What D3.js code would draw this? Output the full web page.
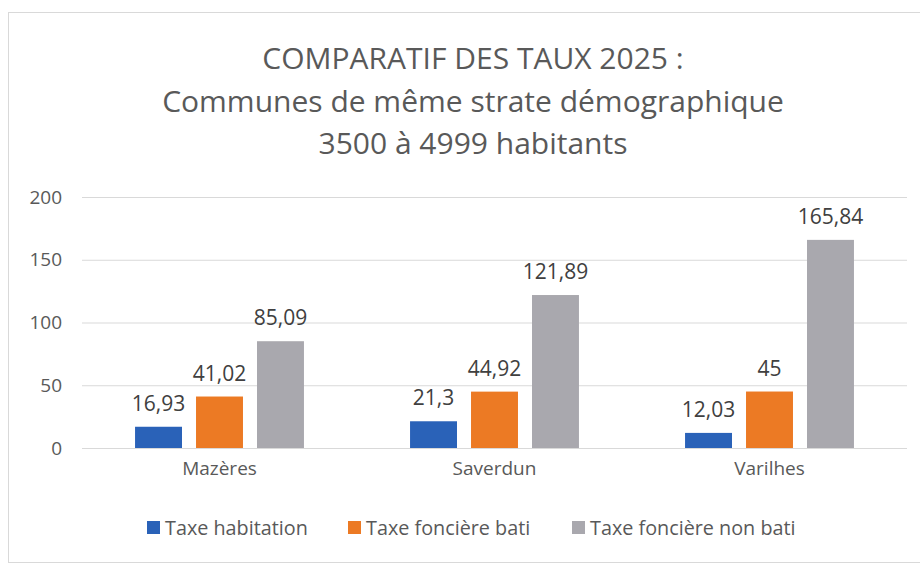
<!DOCTYPE html>
<html>
<head>
<meta charset="utf-8">
<script src="https://cdn.jsdelivr.net/npm/d3@7"></script>
<style>
  body { margin: 0; background: #fff; }
  svg text { font-family: "Open Sans", sans-serif; }
</style>
</head>
<body>
<div id="chart"></div>
<script>
// data
const communes = ["Mazères", "Saverdun", "Varilhes"];
const series = ["Taxe habitation", "Taxe foncière bati", "Taxe foncière non bati"];
const habitation = [16.93, 21.3, 12.03];
const fonciereBati = [41.02, 44.92, 45];
const fonciereNonBati = [85.09, 121.89, 165.84];
const yTicks = [0, 50, 100, 150, 200];
const titleLines = ["COMPARATIF DES TAUX 2025 :", "Communes de même strate démographique", "3500 à 4999 habitants"];

const colors = ["#2a62b8", "#ec7a24", "#a9a8ae"];
const values = [habitation, fonciereBati, fonciereNonBati];

const width = 920, height = 565;
const plot = {left: 82, right: 907, top: 197, bottom: 448};

const svg = d3.select("#chart").append("svg")
  .attr("width", width)
  .attr("height", height);

// chart frame
svg.append("rect")
  .attr("x", 8.5).attr("y", 12.5)
  .attr("width", 940).attr("height", 550)
  .attr("fill", "#fff")
  .attr("stroke", "#d9d9d9");

// title
svg.append("g").selectAll("text")
  .data(titleLines)
  .enter().append("text")
    .attr("x", 473)
    .attr("y", (d, i) => 69 + i * 42.5)
    .attr("text-anchor", "middle")
    .attr("fill", "#595959")
    .style("font-size", "30px")
    .text(d => d);

const x0 = d3.scaleBand()
  .domain(communes)
  .range([plot.left, plot.right]);

const x1 = d3.scaleBand()
  .domain(series)
  .range([0, x0.bandwidth()])
  .paddingInner(0.23)
  .paddingOuter(0.87);

const y = d3.scaleLinear()
  .domain([0, 200])
  .range([plot.bottom, plot.top]);

// gridlines + y labels
const yAxis = svg.append("g")
  .attr("transform", "translate(" + plot.left + ",0)")
  .call(d3.axisLeft(y).tickValues(yTicks).tickSize(-(plot.right - plot.left)).tickPadding(20));
yAxis.select(".domain").remove();
yAxis.selectAll(".tick line").attr("stroke", "#d9d9d9");
yAxis.selectAll(".tick text")
  .attr("fill", "#595959")
  .style("font-size", "19px")
  .style("font-family", "'Open Sans', sans-serif");

// x labels
const xAxis = svg.append("g")
  .attr("transform", "translate(0," + plot.bottom + ")")
  .call(d3.axisBottom(x0).tickSize(0).tickPadding(14));
xAxis.select(".domain").remove();
xAxis.selectAll(".tick text")
  .attr("fill", "#595959")
  .style("font-size", "19px")
  .style("font-family", "'Open Sans', sans-serif");

// bars
const rows = [];
communes.forEach((c, ci) => series.forEach((s, si) => rows.push({commune: c, serie: s, value: values[si][ci], color: colors[si]})));

const groups = svg.append("g").selectAll("rect")
  .data(rows)
  .enter();

groups.append("rect")
  .attr("x", d => x0(d.commune) + x1(d.serie))
  .attr("y", d => y(d.value))
  .attr("width", x1.bandwidth())
  .attr("height", d => plot.bottom - y(d.value))
  .attr("fill", d => d.color);

groups.append("text")
  .attr("x", d => x0(d.commune) + x1(d.serie) + x1.bandwidth() / 2)
  .attr("y", d => y(d.value) - 16)
  .attr("text-anchor", "middle")
  .attr("fill", "#404040")
  .style("font-size", "21px")
  .text(d => String(d.value).replace(".", ","));

// legend
const legendX = [147, 348, 572];
const legend = svg.append("g").selectAll("g")
  .data(series)
  .enter().append("g")
    .attr("transform", (d, i) => "translate(" + legendX[i] + ",521)");
legend.append("rect")
  .attr("width", 13).attr("height", 13)
  .attr("fill", (d, i) => colors[i]);
legend.append("text")
  .attr("x", 18).attr("y", 13.5)
  .attr("fill", "#595959")
  .style("font-size", "19.8px")
  .text(d => d);
</script>
</body>
</html>
